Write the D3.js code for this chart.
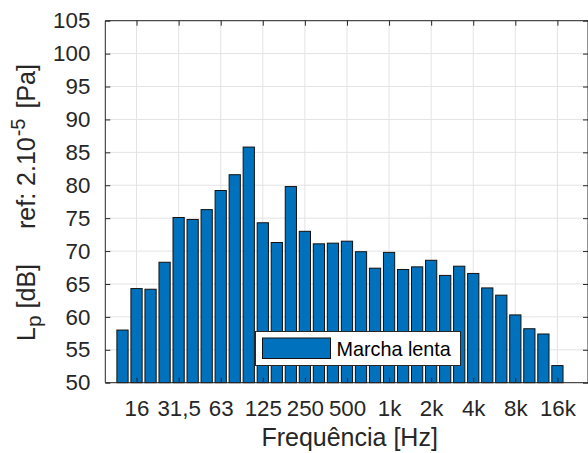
<!DOCTYPE html>
<html>
<head>
<meta charset="utf-8">
<script src="https://cdn.jsdelivr.net/npm/d3@7"></script>
<style>
  html, body { margin: 0; padding: 0; background: #fff; }
  svg { display: block; }
  text { font-family: "Liberation Sans", Arial, sans-serif; fill: #262626; }
</style>
</head>
<body>
<svg id="chart" width="588" height="453"></svg>
<script>
// One-third-octave bands (Hz)
const bands = ["12.5","16","20","25","31.5","40","50","63","80","100","125","160",
  "200","250","315","400","500","630","800","1k","1.25k","1.6k","2k","2.5k",
  "3.15k","4k","5k","6.3k","8k","10k","12.5k","16k"];

// Sound pressure level per band, dB re 2e-5 Pa
const levels = [58.0, 64.3, 64.2, 68.3, 75.1, 74.8, 76.3, 79.2, 81.6, 85.8, 74.3, 71.3,
  79.8, 73.0, 71.1, 71.2, 71.5, 69.9, 67.4, 69.8, 67.2, 67.6, 68.6, 66.3,
  67.7, 66.6, 64.4, 63.3, 60.3, 58.2, 57.4, 52.6];

// Octave labels shown on the frequency axis (band index -> label)
const tickIndex = [1, 4, 7, 10, 13, 16, 19, 22, 25, 28, 31];
const tickLabels = ["16", "31,5", "63", "125", "250", "500", "1k", "2k", "4k", "8k", "16k"];

const yTicks = [50, 55, 60, 65, 70, 75, 80, 85, 90, 95, 100, 105];
const seriesName = "Marcha lenta";

const svg = d3.select("#chart");
const L = 105.3, R = 588, T = 20.7, B = 382.7;

const x = d3.scaleLinear().domain([-1.226, 33.18]).range([L, R]);
const y = d3.scaleLinear().domain([50, 105]).range([B, T]);
const barW = (x(1) - x(0)) * 0.8;

const tickFont = 22.3, labelFont = 25, legendFont = 19.8;

// grid
const grid = svg.append("g").attr("stroke", "#e3e3e3").attr("stroke-width", 1);
yTicks.forEach(v => grid.append("line")
  .attr("x1", L).attr("x2", R).attr("y1", y(v)).attr("y2", y(v)));
tickIndex.forEach(i => grid.append("line")
  .attr("x1", x(i)).attr("x2", x(i)).attr("y1", T).attr("y2", B));

// bars
svg.append("g").selectAll("rect").data(levels).join("rect")
  .attr("x", (d, i) => x(i) - barW / 2)
  .attr("width", barW)
  .attr("y", d => y(d))
  .attr("height", d => y(50) - y(d))
  .attr("fill", "#0072BD")
  .attr("stroke", "#111")
  .attr("stroke-width", 1);

// axes with inward ticks on all four sides
const tl = 5;
const xb = d3.axisBottom(x).tickValues(tickIndex).tickSize(-tl).tickPadding(tl + 12)
  .tickFormat((d, i) => tickLabels[i]);
const xt = d3.axisTop(x).tickValues(tickIndex).tickSize(-tl).tickFormat("");
const yl = d3.axisLeft(y).tickValues(yTicks).tickSize(-tl).tickPadding(tl + 10);
const yr = d3.axisRight(y).tickValues(yTicks).tickSize(-tl).tickFormat("");

function styleAxis(g) {
  g.select(".domain").attr("stroke", "#262626");
  g.selectAll(".tick line").attr("stroke", "#262626");
  g.selectAll(".tick text").attr("fill", "#262626")
    .style("font-family", '"Liberation Sans", Arial, sans-serif')
    .style("font-size", tickFont + "px");
  g.attr("font-size", null);
}

svg.append("g").attr("transform", `translate(0,${B})`).call(xb).call(styleAxis)
  .call(g => g.select(".domain").attr("d", `M${L},0H${R}`));
svg.append("g").attr("transform", `translate(0,${T})`).call(xt).call(styleAxis)
  .call(g => g.select(".domain").attr("d", `M${L},0H${R}`));
svg.append("g").attr("transform", `translate(${L},0)`).call(yl).call(styleAxis)
  .call(g => g.select(".domain").attr("d", `M0,${B}V${T}`));
svg.append("g").attr("transform", `translate(${R},0)`).call(yr).call(styleAxis)
  .call(g => g.select(".domain").attr("d", `M0,${B}V${T}`));

// x-axis title
svg.append("text")
  .attr("x", (L + R) / 2 + 3).attr("y", 446)
  .attr("text-anchor", "middle")
  .style("font-size", labelFont + "px")
  .text("Frequência [Hz]");

// y-axis title with sub/superscripts
const yt = svg.append("text")
  .attr("transform", "translate(35,341) rotate(-90)")
  .attr("text-anchor", "start")
  .style("font-size", labelFont + "px");
yt.append("tspan").text("L");
yt.append("tspan").attr("dy", 6).style("font-size", "21px").text("p");
yt.append("tspan").attr("dy", -6).text(" [dB]");
yt.append("tspan").attr("dx", 28).text(" ref: 2.10");
yt.append("tspan").attr("dy", -10).attr("dx", 1).style("font-size", "20px").text("-5");
yt.append("tspan").attr("dy", 10).attr("dx", 3).text(" [Pa]");

// legend
const lg = svg.append("g");
lg.append("rect")
  .attr("x", 255.5).attr("y", 331.5).attr("width", 205).attr("height", 34)
  .attr("fill", "#fff").attr("stroke", "#262626").attr("stroke-width", 1);
lg.append("rect")
  .attr("x", 262.5).attr("y", 338).attr("width", 68).attr("height", 20.5)
  .attr("fill", "#0072BD").attr("stroke", "#111").attr("stroke-width", 1);
lg.append("text")
  .attr("x", 336.5).attr("y", 355.5)
  .style("font-size", legendFont + "px")
  .style("fill", "#000")
  .text(seriesName);
</script>
</body>
</html>
